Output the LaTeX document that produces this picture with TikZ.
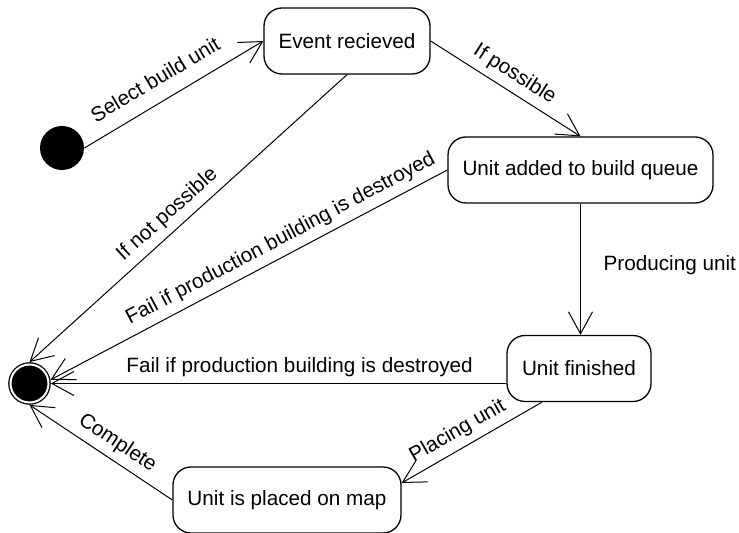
\documentclass[tikz,border=0pt]{standalone}
\usepackage{fontspec}
\setmainfont{Liberation Sans}
\usetikzlibrary{arrows.meta}
\begin{document}
\begin{tikzpicture}[x = 0.5pt, y = -0.5pt,
        font = \fontsize{10.35}{12}\selectfont,
        state/.style = {draw, line width = 0.65pt, rounded corners = 9pt,
                minimum height = 33pt, inner sep = 0pt},
        initial/.style = {circle, fill, minimum size = 22pt, inner sep = 0pt},
        final/.style = {circle, fill, draw, double = white, double distance = 1pt,
                line width = 0.65pt, minimum size = 19pt, inner sep = 0pt, outer sep = 1.2pt},
        trans/.style = {-{Straight Barb[length = 11pt, width = 12pt]}, line width = 0.5pt}]
        \useasboundingbox (0,0) rectangle (739,533);

        \node[initial] (init) at (62,148) {};
        \node[final] (final) at (29.5,383.5) {};
        \node[state, minimum width = 83pt] (event) at (347,41) {Event recieved};
        \node[state, minimum width = 132.5pt] (queue) at (580.5,170) {Unit added to build queue};
        \node[state, minimum width = 72pt] (finished) at (579,368.5) {Unit finished};
        \node[state, minimum width = 114pt] (placed) at (287,500) {Unit is placed on map};

        \draw[trans] (init.east) -- node[sloped, above = 4pt, pos = 0.46] {Select build unit} (event.west);
        \draw[trans] (event.east) -- node[sloped, above] {If possible} (queue.north);
        \draw[trans] (event.south) -- node[sloped, above, pos = 0.53] {If not possible} (final.north);
        \draw[trans] (queue.west) -- node[sloped, above, pos = 0.4] {Fail if production building is destroyed} (final.10);
        \draw[trans] (queue.south) -- node[right, xshift = 8pt, pos = 0.47] {Producing unit} (queue.south |- finished.north);
        \draw[trans] (final.east -| finished.west) -- node[above, pos = 0.454] {Fail if production building is destroyed} (final.east);
        \draw[trans] ([xshift = -18.5pt]finished.south) -- node[sloped, above, pos = 0.54] {Placing unit} ([yshift = 8.5pt]placed.east);
        \draw[trans] (placed.west) -- node[sloped, above, pos = 0.45] {Complete} (final.south);
    \end{tikzpicture}
\end{document}
